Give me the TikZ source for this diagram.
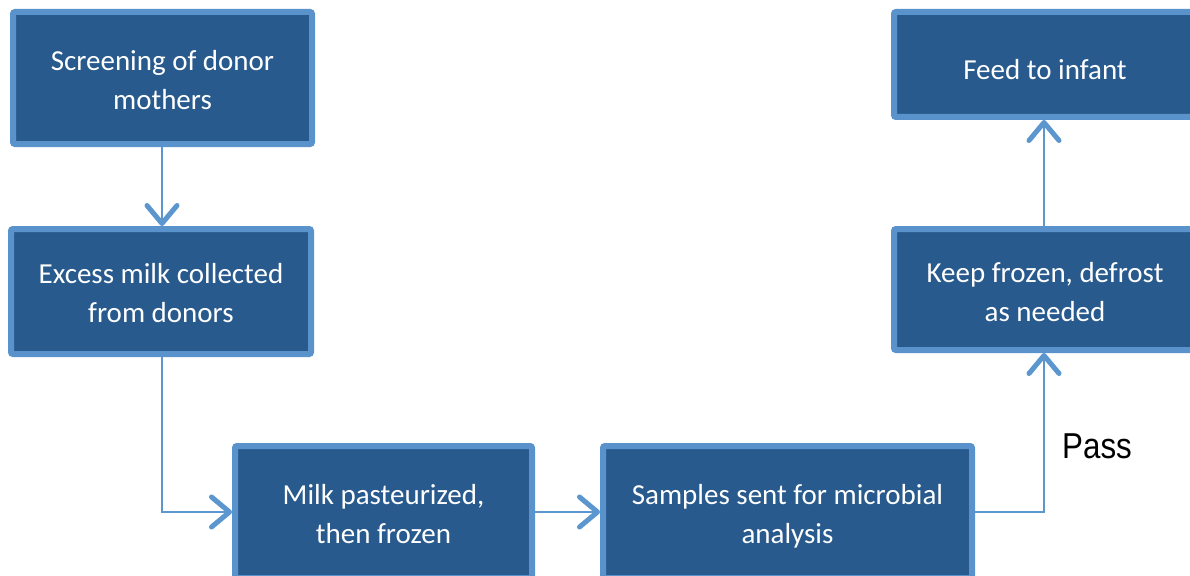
\documentclass[tikz,border=0pt]{standalone}
\usepackage{fontspec}
\setmainfont{Carlito}
\newfontfamily\labelfont[FakeStretch=0.87]{Liberation Sans}
\usetikzlibrary{arrows.meta}
\definecolor{boxfill}{HTML}{285A8D}
\definecolor{boxedge}{HTML}{5A93CC}
\definecolor{linkcol}{HTML}{5B96CF}
% centred lines of box text; the tall strut on the first row sets the block a little lower
\newcommand\boxlines[2][35pt]{\begin{tabular}{@{}c@{}}\rule{0pt}{#1}#2\end{tabular}}
\tikzset{
  stepbox/.style={draw=boxedge, fill=boxfill, line width=6pt, rounded corners=2pt,
    text=white, inner sep=0pt,
    font=\fontsize{29}{39}\selectfont},
  link/.style={draw=linkcol, line width=2pt,
    -{Straight Barb[length=18pt,width=30pt,line width=5pt,round]}},
}
\begin{document}
\begin{tikzpicture}[x=1pt,y=-1pt]
  \useasboundingbox (0,0) rectangle (1190,575);
  \clip (0,0) rectangle (1190,575);

  % process boxes
  \node[stepbox, minimum width=299pt, minimum height=132pt] (screen) at (162.5,78)
    {\boxlines{Screening of donor\\mothers}};
  \node[stepbox, minimum width=300pt, minimum height=125pt] (collect) at (161,291.5)
    {\boxlines{Excess milk collected\\from donors}};
  \node[stepbox, minimum width=297pt, minimum height=132pt] (pasteur) at (383.5,512)
    {\boxlines{Milk pasteurized,\\then frozen}};
  \node[stepbox, minimum width=369pt, minimum height=132pt] (samples) at (787.5,512)
    {\boxlines{Samples sent for microbial\\analysis}};
  \node[stepbox, minimum width=302pt, minimum height=121pt] (keep) at (1045,289.5)
    {\boxlines[37pt]{Keep frozen, defrost\\as needed}};
  \node[stepbox, minimum width=302pt, minimum height=105pt] (feed) at (1045,64.5)
    {\boxlines[41pt]{Feed to infant}};

  % connectors
  \coordinate (bend1) at (162,512);
  \coordinate (bend2) at (1044,512);
  \draw[link] (screen.south -| 162,0) -- (collect.north -| 162,0);
  \draw[link] (collect.south -| bend1) -- (bend1) -- (pasteur.west);
  \draw[link] (pasteur.east) -- (samples.west);
  \draw[link] (samples.east) -- (bend2) -- (keep.south -| bend2);
  \draw[link] (keep.north -| bend2) -- (feed.south -| bend2);

  \node[font=\labelfont\fontsize{36}{40}\selectfont, anchor=base west, inner sep=0pt]
    (pass) at (1062,458) {Pass};
\end{tikzpicture}
\end{document}
